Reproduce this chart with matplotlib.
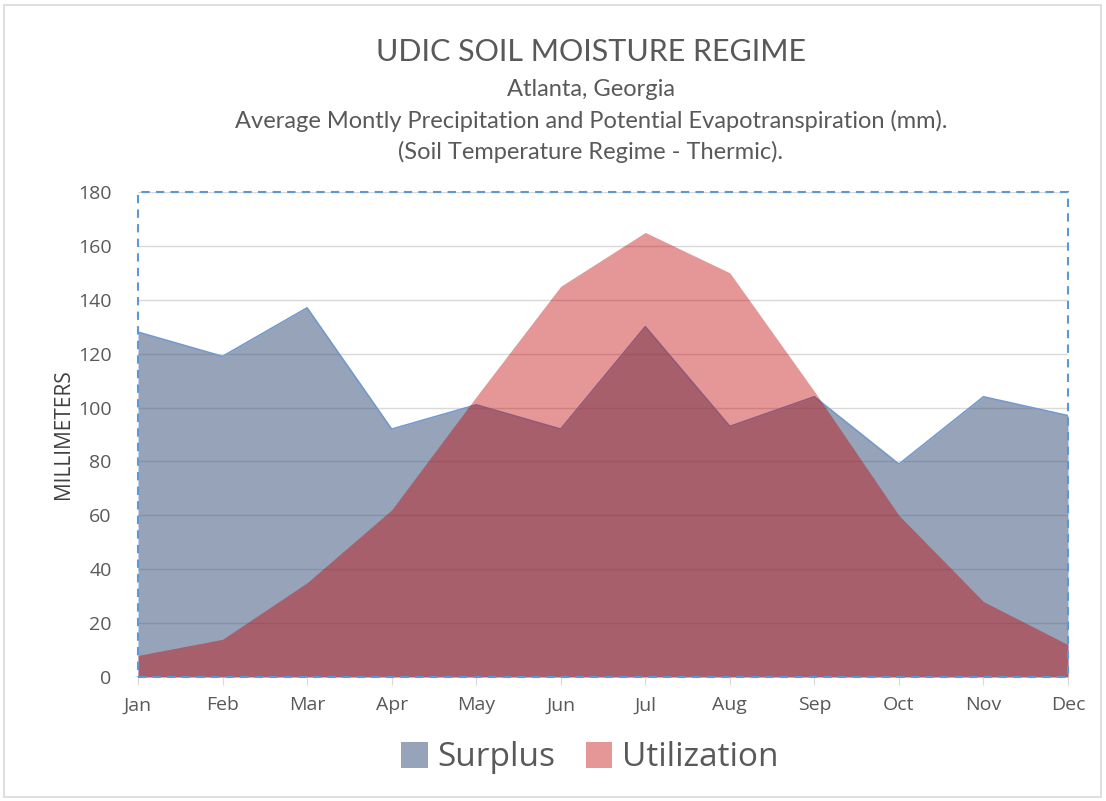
import matplotlib
matplotlib.use("Agg")
import matplotlib.pyplot as plt
from matplotlib.patches import Rectangle, Patch
import numpy as np

months = ["Jan", "Feb", "Mar", "Apr", "May", "Jun", "Jul", "Aug", "Sep", "Oct", "Nov", "Dec"]
surplus = [128, 119, 137, 92, 101, 92, 130, 93, 104, 79, 104, 97]
utilization = [8, 14, 35, 62, 104, 145, 165, 150, 106, 60, 28, 12]
yticks = [0, 20, 40, 60, 80, 100, 120, 140, 160, 180]

plt.rcParams['font.family'] = ['Lato', 'DejaVu Sans']
txt = (0.35, 0.35, 0.35)
osans = ['Open Sans', 'DejaVu Sans']

fig = plt.figure(figsize=(11.06, 8.01), dpi=100)
ax = fig.add_axes([138/1106, 1-677/801, 930/1106, 485/801])

x = np.arange(len(months))
blue = (66/255, 88/255, 126/255)
red = (192/255, 0, 0)
ax.fill_between(x, 0, surplus, color=blue, alpha=0.55, lw=0, zorder=2)
ax.plot(x, surplus, color=(0.45, 0.6, 0.8), lw=1.2, zorder=3)
ax.fill_between(x, 0, utilization, color=red, alpha=0.41, lw=0, zorder=4)

ax.set_xlim(0, len(months)-1)
ax.set_ylim(0, 180)
ax.set_yticks(yticks)
ax.set_xticks(x)
ax.set_xticklabels(months, family=osans)
ax.set_yticklabels([str(v) for v in yticks], family=osans)
ax.grid(axis='y', color=(0.85, 0.85, 0.85), lw=1, zorder=1)
ax.set_axisbelow(True)
for s in ['top', 'right', 'left']:
    ax.spines[s].set_visible(False)
ax.spines['bottom'].set_color((0.85, 0.85, 0.85))
ax.tick_params(axis='y', length=0, labelsize=14, labelcolor=txt, pad=19)
ax.tick_params(axis='x', length=6, color=(0.85, 0.85, 0.85), labelsize=14, labelcolor=txt, pad=8)
ax.set_ylabel("MILLIMETERS", fontsize=15, color=(0.25, 0.25, 0.25), labelpad=3, family=osans)

# dashed plot-area border
ax.add_patch(Rectangle((0, 0), 1, 1, transform=ax.transAxes, fill=False,
                       edgecolor=(0.36, 0.6, 0.83), lw=1.5, ls=(0, (4, 3)), zorder=6, clip_on=False))

# outer chart border
fig.patches.append(Rectangle((4/1106, 4/801), 1097/1106, 792/801, transform=fig.transFigure,
                             fill=False, edgecolor=(0.85, 0.85, 0.85), lw=1.2))

fig.text(591/1106, 1-52/801, "UDIC SOIL MOISTURE REGIME", ha='center', va='center', fontsize=22, color=txt)
fig.text(591/1106, 1-89/801, "Atlanta, Georgia", ha='center', va='center', fontsize=17, color=txt)
fig.text(591/1106, 1-121/801, "Average Montly Precipitation and Potential Evapotranspiration (mm).", ha='center', va='center', fontsize=17, color=txt)
fig.text(591/1106, 1-152/801, "(Soil Temperature Regime - Thermic).", ha='center', va='center', fontsize=17, color=txt)

# legend
handles = [Patch(facecolor=blue, alpha=0.55, edgecolor='none'),
           Patch(facecolor=red, alpha=0.41, edgecolor='none')]
fig.legend(handles, ["Surplus", "Utilization"], loc='center', bbox_to_anchor=(590/1106, 1-758/801),
           ncol=2, frameon=False, prop={'family': osans, 'size': 24}, labelcolor=txt,
           handlelength=0.8, handleheight=0.8, handletextpad=0.3, columnspacing=0.9)

fig.savefig("out.png", dpi=100)
